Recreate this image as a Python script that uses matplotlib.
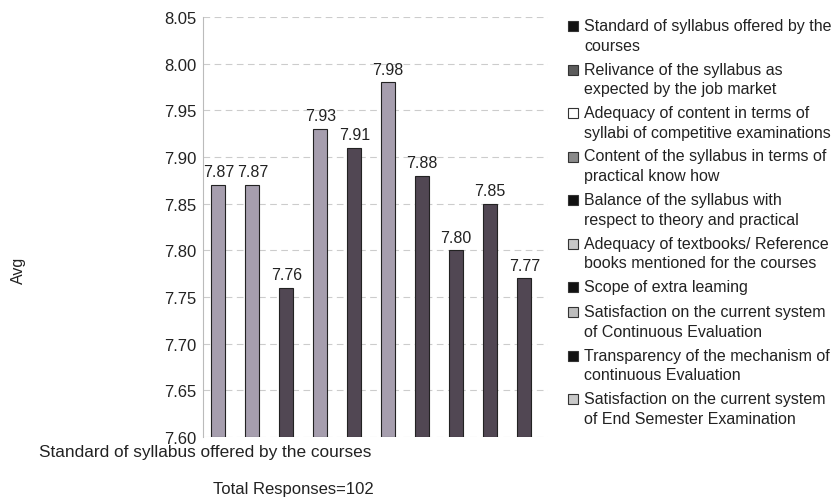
import matplotlib.pyplot as plt
from matplotlib.patches import Rectangle

plt.rcParams['font.family'] = ['Liberation Sans', 'DejaVu Sans']

# -----------------------------------
# DATA
# -----------------------------------

criteria = [
    "Standard of syllabus offered by the\ncourses",
    "Relivance of the syllabus as\nexpected by the job market",
    "Adequacy of content in terms of\nsyllabi of competitive examinations",
    "Content of the syllabus in terms of\npractical know how",
    "Balance of the syllabus with\nrespect to theory and practical",
    "Adequacy of textbooks/ Reference\nbooks mentioned for the courses",
    "Scope of extra leaming",
    "Satisfaction on the current system\nof Continuous Evaluation",
    "Transparency of the mechanism of\ncontinuous Evaluation",
    "Satisfaction on the current system\nof End Semester Examination",
]

avg = [7.87, 7.87, 7.76, 7.93, 7.91, 7.98, 7.88, 7.80, 7.85, 7.77]

yticks = [7.60, 7.65, 7.70, 7.75, 7.80, 7.85, 7.90, 7.95, 8.00, 8.05]

light = '#a69eae'
dark = '#514753'
bar_colors = [light, light, dark, light, dark, light, dark, dark, dark, dark]
legend_colors = ['#111111', '#5c5c5c', '#ffffff', '#8a8a8a', '#111111',
                 '#c8c8c8', '#111111', '#bdbdbd', '#111111', '#c8c8c8']

# -----------------------------------
# FIGURE
# -----------------------------------

W, H = 835, 502
fig = plt.figure(figsize=(W / 100, H / 100), dpi=100)
ax = fig.add_axes([203 / W, 1 - 438 / H, (548 - 203) / W, (438 - 18) / H])

x = list(range(len(avg)))
base = yticks[0]
ax.bar(x, [v - base for v in avg], bottom=base, width=0.42,
       color=bar_colors, edgecolor='#222222', linewidth=0.8, zorder=3)

for i, v in enumerate(avg):
    ax.text(i, v + 0.006, f"{v:.2f}", ha='center', va='bottom',
            fontsize=11.5, color='#222222')

ax.set_ylim(yticks[0], yticks[-1])
ax.set_xlim(-0.45, 9.7)
ax.set_yticks(yticks)
ax.set_yticklabels([f"{t:.2f}" for t in yticks], fontsize=12, color='#222222')
ax.set_xticks([])
ax.tick_params(axis='y', length=0, pad=5)
ax.yaxis.grid(True, linestyle=(0, (6, 4)), color='#cccccc', linewidth=0.8)
for side in ['top', 'right', 'bottom']:
    ax.spines[side].set_visible(False)
ax.spines['left'].set_color('#bbbbbb')
ax.spines['left'].set_linewidth(0.8)

# Labels
fig.text(18 / W, 1 - 270 / H, "Avg", rotation=90, ha='center', va='center',
         fontsize=11.5, color='#222222')
fig.text(205 / W, 1 - 453 / H, "Standard of syllabus offered by the courses",
         ha='center', va='center', fontsize=12.4, color='#222222')
fig.text(293 / W, 1 - 490 / H, "Total Responses=102",
         ha='center', va='center', fontsize=12, color='#222222')

# Legend (drawn by hand, pixel positions from the top)
y = 27
for label, col in zip(criteria, legend_colors):
    nlines = label.count("\n") + 1
    fig.patches.append(Rectangle((568 / W, 1 - (y + 5) / H), 10 / W, 10 / H,
                                 transform=fig.transFigure, facecolor=col,
                                 edgecolor='#333333', linewidth=0.8))
    fig.text(584 / W, 1 - (y - 8) / H, label, ha='left', va='top',
             fontsize=11.5, linespacing=1.38, color='#222222')
    y += 43.5 if nlines == 2 else 25

fig.savefig("out.png", dpi=100)
